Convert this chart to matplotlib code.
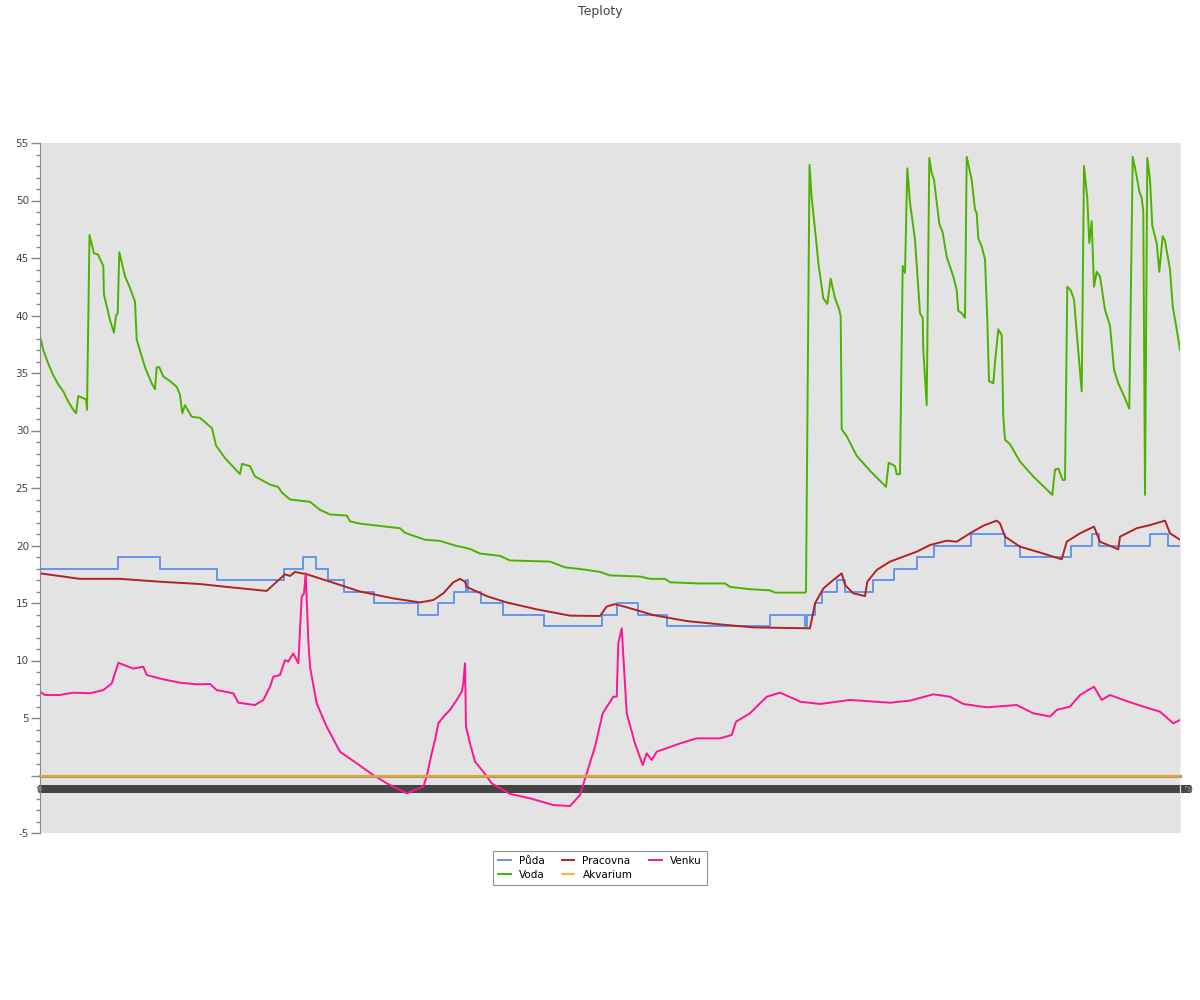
import numpy as np
from matplotlib import pyplot as plt
from matplotlib.ticker import MultipleLocator

# samples along the time axis (one sample ~ one reading)
puda_t = [0, 77.7, 120, 176.7, 244.3, 263.3, 276, 288.3, 304, 334.3, 378.3, 398.3, 414.3, 425.7,
          428.3, 441, 463.3, 504, 562.3, 577.3, 598.3, 626.7, 730, 765, 766.7, 775, 781.7, 797.3,
          805, 832.7, 854.3, 876.7, 894.3, 931, 965, 980, 1031, 1051.7, 1059.3, 1110, 1128.3, 1140]
puda = [18, 19, 18, 17, 18, 19, 18, 17, 16, 15, 14, 15, 16, 17,
        16, 15, 14, 13, 14, 15, 14, 13, 14, 13, 14, 15, 16, 17,
        16, 17, 18, 19, 20, 21, 20, 19, 20, 21, 20, 21, 20, 20]

voda_t = [0, 3.3, 8.3, 13.3, 18.3, 23.3, 28.3, 33.3, 36, 38.3, 46, 47, 49.5, 54, 58, 63.3, 64, 70,
          74, 76, 77.7, 79.3, 85, 90, 95, 96.7, 105, 111.7, 115, 116.7, 119.3, 123.3, 130, 136.7,
          140, 142.3, 145, 151.7, 160, 172, 176, 185, 200, 202, 210, 215, 230, 238, 242, 250, 270,
          280, 290, 307, 310, 320, 340, 360, 365, 385, 400, 415, 430, 440, 460, 470, 510, 525, 545,
          560, 570, 600, 610, 625, 630, 660, 685, 690, 710, 730, 735, 765, 766, 769.5, 771.7, 775,
          778.3, 783.3, 787.3, 790.7, 795, 799.3, 800.7, 801.7, 806.7, 816.7, 830, 846, 848.7, 855,
          856.7, 860, 862.7, 865, 867.3, 870, 875, 880, 882.7, 883.3, 886.7, 889.3, 891.7, 894,
          896.7, 899.3, 902.7, 906.7, 913.3, 916.7, 918.3, 921.7, 925, 926.7, 931.7, 935, 936.7,
          938.3, 941.7, 945, 947.3, 949, 953.3, 955, 958.3, 961.7, 963.3, 965, 970, 980, 993.3,
          1010, 1012.3, 1015, 1018.3, 1022.7, 1025, 1027.3, 1030.7, 1034, 1037.3, 1041.7, 1044,
          1047.3, 1049.3, 1051.7, 1054, 1056.7, 1060, 1065, 1070, 1074, 1078.3, 1085, 1089.3,
          1092.7, 1096.7, 1099.3, 1101.7, 1103.3, 1105, 1107.3, 1110, 1112.3, 1116.7, 1119.3,
          1122.7, 1125, 1130, 1132.7, 1136.7, 1140]
voda = [38.2, 37.0, 35.8, 34.8, 34.0, 33.4, 32.5, 31.8, 31.5, 33.0, 32.7, 31.8, 47.0, 45.4, 45.3,
        44.3, 41.8, 39.6, 38.5, 40.0, 40.2, 45.5, 43.4, 42.4, 41.2, 37.9, 35.5, 34.1, 33.6, 35.5,
        35.5, 34.7, 34.3, 33.8, 33.1, 31.5, 32.2, 31.2, 31.1, 30.2, 28.7, 27.6, 26.2, 27.1, 26.9,
        26.0, 25.3, 25.1, 24.6, 24.0, 23.8, 23.1, 22.7, 22.6, 22.1, 21.9, 21.7, 21.5, 21.1, 20.5,
        20.4, 20.0, 19.7, 19.3, 19.1, 18.7, 18.6, 18.1, 17.9, 17.7, 17.4, 17.3, 17.1, 17.1, 16.8,
        16.7, 16.7, 16.4, 16.2, 16.1, 15.9, 15.9, 16.0, 53.1, 50.2, 47.5, 44.6, 41.5, 41.0, 43.2,
        41.5, 40.5, 39.9, 30.1, 29.5, 27.8, 26.5, 25.1, 27.2, 26.9, 26.2, 26.2, 44.3, 43.7, 52.8,
        49.8, 46.6, 40.2, 39.8, 37.0, 32.2, 53.7, 52.4, 51.8, 49.9, 48.0, 47.2, 45.1, 43.4, 42.2,
        40.4, 40.2, 39.8, 53.8, 51.8, 49.2, 48.9, 46.7, 46.0, 44.9, 39.6, 34.3, 34.1, 35.9, 38.8,
        38.3, 31.2, 29.2, 28.8, 27.3, 26.0, 24.6, 24.4, 26.6, 26.7, 25.7, 25.7, 42.5, 42.2, 41.4,
        37.9, 33.4, 53.0, 50.2, 46.3, 48.2, 42.5, 43.8, 43.4, 40.5, 39.1, 35.3, 34.1, 32.8, 31.9,
        53.8, 52.1, 50.8, 50.2, 49.1, 24.4, 53.7, 51.8, 47.8, 46.3, 43.8, 46.9, 46.5, 44.0, 40.8,
        38.8, 37.0]

pracovna_t = [0, 40, 80, 120, 160, 186.7, 226.7, 245, 250, 255, 266.7, 286.7, 320, 353.3, 380,
              393.3, 403.3, 413.3, 420, 425, 426.7, 446.7, 466.7, 496.7, 530, 560, 566.7, 575,
              586.7, 613.3, 646.7, 680, 713.3, 746.7, 770, 775, 783.3, 793.3, 801.7, 805, 813.3,
              825, 827.3, 836.7, 850, 863.3, 876.7, 890, 906.7, 916.7, 930, 943.3, 956.7, 960,
              965, 980, 1003.3, 1021.7, 1026.7, 1040, 1054, 1060, 1078.3, 1080, 1096.7, 1110,
              1125, 1130, 1140]
pracovna = [17.58, 17.1, 17.1, 16.85, 16.65, 16.4, 16.05, 17.5, 17.35, 17.7, 17.5, 16.95, 16.0,
            15.4, 15.05, 15.26, 15.84, 16.8, 17.1, 16.85, 16.4, 15.6, 15.05, 14.45, 13.9, 13.87,
            14.7, 14.9, 14.63, 13.95, 13.43, 13.14, 12.88, 12.83, 12.8, 14.97, 16.26, 17.0, 17.58,
            16.57, 15.84, 15.6, 16.85, 17.87, 18.6, 19.03, 19.46, 20.04, 20.42, 20.33, 21.06,
            21.72, 22.16, 21.93, 20.77, 19.9, 19.3, 18.8, 20.33, 21.06, 21.64, 20.33, 19.67, 20.77,
            21.5, 21.78, 22.16, 21.06, 20.5]

akvarium_t = [0, 1140]
akvarium = [0, 0]

venku_t = [0, 5, 20, 33.3, 50, 63.3, 71.7, 78.3, 93.3, 103.3, 106.7, 123.3, 140, 156.7, 170,
           176.7, 193.3, 198.3, 215, 223.3, 230, 233.3, 240, 245, 248.3, 253.3, 258.3, 261.7, 264,
           265.7, 268.3, 270, 276.7, 286.7, 300, 316.7, 333.3, 346.7, 366.7, 383.3, 386.7, 391.7,
           395, 398.3, 405, 410, 416.7, 421.7, 423.3, 425, 426, 430, 435, 443.3, 451.7, 470, 490,
           513.3, 530, 540, 546.7, 555, 562.7, 573.3, 576.7, 578.3, 581.7, 586.7, 595, 602.7,
           606.7, 611.7, 616.7, 640, 656.7, 680, 691.7, 696, 710, 726.7, 740, 756.7, 760, 780,
           810, 850, 870, 893.3, 910, 923.3, 946.7, 976.7, 993.3, 1010, 1016.7, 1030, 1040, 1054,
           1061.7, 1070, 1083.3, 1103.3, 1120, 1133.3, 1140]
venku = [7.29, 7.0, 7.0, 7.2, 7.15, 7.43, 8.0, 9.8, 9.3, 9.46, 8.74, 8.36, 8.07, 7.93, 7.96, 7.43,
         7.15, 6.33, 6.13, 6.57, 7.72, 8.59, 8.74, 10.04, 9.9, 10.62, 9.75, 15.55, 15.84, 17.58,
         11.78, 9.46, 6.27, 4.24, 2.07, 1.06, 0.04, -0.68, -1.55, -0.97, -0.1, 1.93, 3.09, 4.54,
         5.26, 5.7, 6.57, 7.29, 8.0, 9.75, 4.24, 2.79, 1.2, 0.33, -0.68, -1.6, -1.98, -2.57,
         -2.65, -1.7, 0.19, 2.5, 5.41, 6.85, 6.85, 11.5, 12.8, 5.41, 2.79, 0.91, 1.93, 1.35, 2.07,
         2.79, 3.23, 3.23, 3.52, 4.68, 5.41, 6.85, 7.2, 6.57, 6.42, 6.22, 6.57, 6.33, 6.51, 7.06,
         6.85, 6.22, 5.93, 6.13, 5.41, 5.13, 5.7, 5.99, 7.0, 7.72, 6.57, 7.0, 6.57, 5.99, 5.55,
         4.54, 4.83]

# x tick labels: one per reading, they overlap into one dark band in the original
x_ticks = list(range(10, 1141, 1))
x_labels = ["%02d:%02d" % ((i // 60) % 24, i % 60) for i in range(len(x_ticks))]

y_ticks = list(range(-5, 56, 5))
y_labels = ['' if v == 0 else str(v) for v in y_ticks]

fig = plt.figure(figsize=(12, 10), dpi=100)
ax = fig.add_axes([40 / 1200, 1 - 833 / 1000, 1140 / 1200, 690 / 1000])
ax.set_facecolor('#e3e3e3')

lw = 1.4
ax.plot(puda_t, puda, drawstyle='steps-post', color='cornflowerblue', lw=lw, label='Půda')
ax.plot(voda_t, voda, color='#4cb200', lw=lw, label='Voda')
ax.plot(pracovna_t, pracovna, color='firebrick', lw=lw, label='Pracovna')
ax.plot(akvarium_t, akvarium, color='orange', lw=1.2, label='Akvarium', zorder=3)
ax.plot(venku_t, venku, color='deeppink', lw=lw, label='Venku')

ax.set_xlim(0, 1140)
ax.set_ylim(-5, 55)

ax.spines['top'].set_visible(False)
ax.spines['right'].set_color('#eeeeee')
ax.spines['left'].set_color('#888888')
ax.spines['bottom'].set_position(('data', 0))
ax.spines['bottom'].set_color('#999999')
ax.spines['bottom'].set_linewidth(2.2)
ax.spines['bottom'].set_zorder(2.8)

ax.set_yticks(y_ticks)
ax.set_yticklabels(y_labels)
ax.yaxis.set_minor_locator(MultipleLocator(1))
ax.tick_params(axis='y', which='major', direction='out', length=6.5, width=1, color='#888888',
               labelsize=7.5, labelcolor='#444444', pad=1.5)
ax.tick_params(axis='y', which='minor', direction='out', length=3, width=1, color='#888888')

ax.set_xticks(x_ticks)
ax.set_xticklabels(x_labels)
ax.tick_params(axis='x', length=0, labelsize=7, labelcolor='#444444', pad=6.5)

fig.text(0.5, 0.989, 'Teploty', ha='center', va='center', fontsize=9, color='#444444')

leg = fig.legend(loc='center', bbox_to_anchor=(0.5, 0.132), ncol=3, fontsize=7.5,
                 frameon=True, fancybox=False, handlelength=1.2, columnspacing=1.6,
                 borderpad=0.5, labelspacing=0.4)
leg.get_frame().set_edgecolor('#777777')
leg.get_frame().set_linewidth(0.8)

fig.savefig('out.png', dpi=100)
